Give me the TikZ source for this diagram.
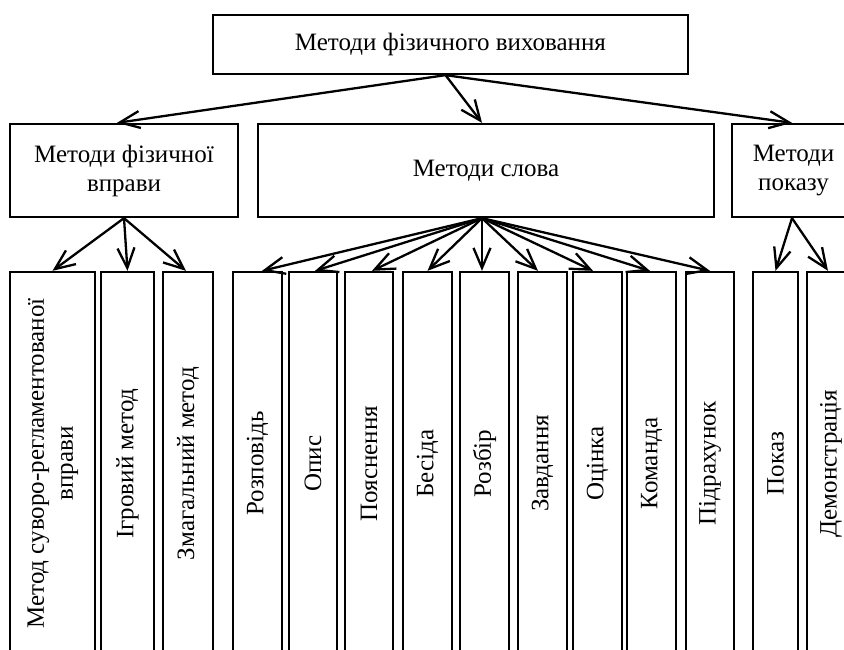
\documentclass[tikz,border=0pt]{standalone}
\usepackage{fontspec}
\setmainfont{Liberation Serif}
\usetikzlibrary{arrows.meta}
\begin{document}
\begin{tikzpicture}[x=1pt,y=-1pt,
  box/.style={draw, line width=2.3pt, inner sep=0pt, align=center, font=\fontsize{25}{29}\selectfont},
  tall/.style={box, minimum height=383pt},
  arr/.style={line width=2.3pt, -{Straight Barb[length=20pt,width=17pt,line width=2.3pt]}}]
\useasboundingbox (0,0) rectangle (844,650);
\clip (0,0) rectangle (844,650);
% level 1
\node[box, minimum width=475pt, minimum height=59pt] (top) at (450.5,44.5) {Методи фізичного виховання};
% level 2
\node[box, minimum width=228pt, minimum height=93pt] (A) at (124,170.5) {Методи фізичної\\вправи};
\node[box, minimum width=456pt, minimum height=93pt] (B) at (486,170.5) {Методи слова};
\node[box, minimum width=123pt, minimum height=93pt] (C) at (793.5,170.5) {Методи\\показу};
% level 3
\node[tall, minimum width=85pt] (b1) at (52.5,463.5) {\rotatebox{90}{\begin{tabular}{@{}c@{}}Метод суворо-регламентованої\\вправи\end{tabular}}};
\node[tall, minimum width=53pt] (b2) at (127.5,463.5) {\rotatebox{90}{Ігровий метод}};
\node[tall, minimum width=50pt] (b3) at (188,463.5) {\rotatebox{90}{Змагальний метод}};
\node[tall, minimum width=49pt] (b4) at (257.5,463.5) {\rotatebox{90}{Розповідь}};
\node[tall, minimum width=48pt] (b5) at (313,463.5) {\rotatebox{90}{Опис}};
\node[tall, minimum width=48pt] (b6) at (369,463.5) {\rotatebox{90}{Пояснення}};
\node[tall, minimum width=49pt] (b7) at (427.5,463.5) {\rotatebox{90}{Бесіда}};
\node[tall, minimum width=49pt] (b8) at (484.5,463.5) {\rotatebox{90}{Розбір}};
\node[tall, minimum width=49pt] (b9) at (542.5,463.5) {\rotatebox{90}{Завдання}};
\node[tall, minimum width=49pt] (b10) at (597.5,463.5) {\rotatebox{90}{Оцінка}};
\node[tall, minimum width=49pt] (b11) at (651.5,463.5) {\rotatebox{90}{Команда}};
\node[tall, minimum width=48pt] (b12) at (710,463.5) {\rotatebox{90}{Підрахунок}};
\node[tall, minimum width=45pt] (b13) at (775.5,463.5) {\rotatebox{90}{Показ}};
\node[tall, minimum width=48pt] (b14) at (831,463.5) {\rotatebox{90}{Демонстрація}};
% arrows level 1 -> 2
\draw[arr] ([xshift=-5pt]top.south) -- ([xshift=-7pt]A.north);
\draw[arr] ([xshift=-5pt]top.south) -- ([xshift=-4pt]B.north);
\draw[arr] ([xshift=-5pt]top.south) -- ([xshift=-1.5pt]C.north);
% arrows A
\draw[arr] (A.south) -- (b1.north);
\draw[arr] (A.south) -- (b2.north);
\draw[arr] (A.south) -- ([xshift=-2pt]b3.north);
% arrows B
\draw[arr] ([xshift=-4pt]B.south) -- ([xshift=4.5pt]b4.north);
\draw[arr] ([xshift=-4pt]B.south) -- ([xshift=2pt]b5.north);
\draw[arr] ([xshift=-4pt]B.south) -- ([xshift=3pt]b6.north);
\draw[arr] ([xshift=-4pt]B.south) -- (b7.north);
\draw[arr] ([xshift=-4pt]B.south) -- ([xshift=-2.5pt]b8.north);
\draw[arr] ([xshift=-4pt]B.south) -- ([xshift=-4.5pt]b9.north);
\draw[arr] ([xshift=-4pt]B.south) -- ([xshift=-4.5pt]b10.north);
\draw[arr] ([xshift=-4pt]B.south) -- ([xshift=-1.5pt]b11.north);
\draw[arr] ([xshift=-4pt]B.south) -- (b12.north);
% arrows C
\draw[arr] ([xshift=-1.5pt]C.south) -- (b13.north);
\draw[arr] ([xshift=-1.5pt]C.south) -- ([xshift=-3pt]b14.north);
\end{tikzpicture}
\end{document}
